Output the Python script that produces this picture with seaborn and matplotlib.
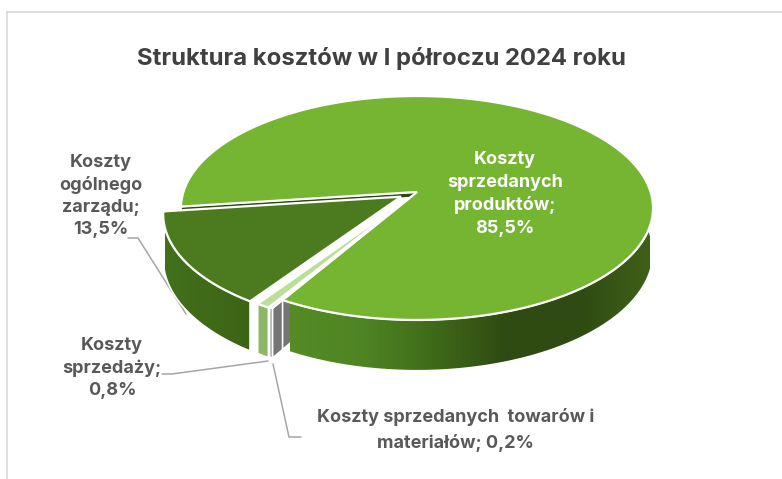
"""Struktura kosztow - exploded 3D pie drawn on a seaborn themed figure."""
import numpy as np
import matplotlib
matplotlib.use("Agg")
import matplotlib.pyplot as plt
from matplotlib.colors import to_rgb
from matplotlib.patches import Polygon
import seaborn as sns

categories = ["Koszty\nsprzedanych\nproduktów;\n85,5%",
              "Koszty sprzedanych  towarów i\nmateriałów; 0,2%",
              "Koszty\nsprzedaży;\n0,8%",
              "Koszty\nogólnego\nzarządu;\n13,5%"]
values = [85.5, 0.2, 0.8, 13.5]
explode = [0.0, 0.065, 0.07, 0.08]

title = "Struktura kosztów w I półroczu 2024 roku"
first_angle = 262.5

# projection of the pie disc, in pixels
CX, CY = 417, 192
A, B, D, K = 233.6, 109.7, 43.5, 1 / 7

sns.set_theme(style="white")
plt.rcParams["font.family"] = ["Inter", "DejaVu Sans"]

fig, ax = plt.subplots(figsize=(7.82, 4.79), dpi=100)
ax.set_position([0, 0, 1, 1])
ax.axis("off")


def project(angle, r, mid, e, z=0.0):
    u = r * np.sin(np.radians(angle)) + e * np.sin(np.radians(mid))
    v = -r * np.cos(np.radians(angle)) - e * np.cos(np.radians(mid))
    w = 1 - K * v
    return CX + A * u / w, CY + (B * v + D * z) / w


def top_face(start, stop, mid, e, color, zorder):
    angles = np.linspace(start, stop, 300)
    x, y = project(angles, 1.0, mid, e)
    ax0, ay0 = project(mid, 0.0, mid, e)
    pts = np.column_stack([np.r_[ax0, x], np.r_[ay0, y]])
    ax.add_patch(Polygon(pts, closed=True, fc=color, ec="white", lw=1.6,
                         joinstyle="miter", zorder=zorder))


def radial_wall(angle, mid, e, color, zorder, depth=1.0):
    x0, y0 = project(mid, 0.0, mid, e)
    x1, y1 = project(angle, 1.0, mid, e)
    x2, y2 = project(angle, 1.0, mid, e, depth)
    x3, y3 = project(mid, 0.0, mid, e, depth)
    ax.add_patch(Polygon([(x0, y0), (x1, y1), (x2, y2), (x3, y3)], closed=True,
                         fc=color, ec="white", lw=1.2, zorder=zorder))


def outer_wall(start, stop, mid, e, palette, x_from, x_to, zorder):
    # gradient image clipped to the curved side of the slice
    angles = np.linspace(start, stop, 361)
    x, y = project(angles, 1.0, mid, e)
    xb, yb = project(angles, 1.0, mid, e, 1.0)
    pts = np.column_stack([np.r_[x, xb[::-1]], np.r_[y, yb[::-1]]])
    edge = Polygon(pts, closed=True, fc="none", ec="white", lw=1.2, zorder=zorder + 0.1)
    ax.add_patch(edge)
    colors = np.array([to_rgb(c) for c in palette])[np.newaxis, :, :]
    im = ax.imshow(colors, extent=[x_from, x_to, 479, 0], aspect="auto",
                   interpolation="bilinear", zorder=zorder)
    im.set_clip_path(edge)


# slice angles, clockwise from 12 o'clock
shares = np.array(values) / sum(values) * 360
starts = first_angle + np.r_[0, np.cumsum(shares)[:-1]]
stops = starts + shares
mids = (starts + stops) / 2

main_wall = sns.blend_palette(["#558c25", "#4f8423", "#3f6a1a", "#2f4a12", "#2f4a12", "#3f6018"], 200)
admin_wall = sns.blend_palette(["#42701b", "#3f6a18", "#3b6315"], 60)
sales_wall = sns.blend_palette(["#8db765", "#8db765"], 4)
goods_wall = sns.blend_palette(["#8a8a8a", "#8a8a8a"], 4)

# leader lines stay behind the pie
line_c = "#a6a6a6"
ax.plot([128, 138, 186], [238, 238, 314], color=line_c, lw=1.1, zorder=1)
ax.plot([162, 172, 268], [374, 374, 361], color=line_c, lw=1.1, zorder=1)
ax.plot([273, 289, 301], [364, 437, 437], color=line_c, lw=1.1, zorder=1)

# goods slice: cut face is seen behind the main slice
radial_wall(starts[1], mids[1], explode[1], "#757575", 2)

# main slice, only a thin strip of its cut face shows next to the admin slice
outer_wall(starts[0], stops[0], mids[0], explode[0], main_wall, 290, 650, 3)
radial_wall(starts[0], mids[0], explode[0], "#2c4a10", 3.5, depth=0.12)
top_face(starts[0], stops[0], mids[0], explode[0], "#76b531", 4)

# small slices and the admin slice in front
outer_wall(starts[1], stops[1], mids[1], explode[1], goods_wall, 0, 782, 5)
top_face(starts[1], stops[1], mids[1], explode[1], "#7f7f7f", 6)
outer_wall(starts[3], stops[3], mids[3], explode[3], admin_wall, 165, 257, 7)
top_face(starts[3], stops[3], mids[3], explode[3], "#4c7a1f", 8)
outer_wall(starts[2], stops[2], mids[2], explode[2], sales_wall, 0, 782, 9)
top_face(starts[2], stops[2], mids[2], explode[2], "#bcdf98", 10)

# chart frame
ax.plot([7, 7], [479, 11.5], color="#d9d9d9", lw=1.2, zorder=0)
ax.plot([7, 782], [11.5, 11.5], color="#d9d9d9", lw=1.2, zorder=0)

ax.set_xlim(0, 782)
ax.set_ylim(479, 0)

ax.text(381, 58, title, ha="center", va="center", fontsize=17.2, fontweight="bold", color="#404040")

label_fs = 13
ax.text(505, 194, categories[0], ha="center", va="center", fontsize=label_fs, fontweight="bold",
        color="white", linespacing=1.42, zorder=20)
ax.text(455.5, 430, categories[1], ha="center", va="center", fontsize=label_fs, fontweight="bold",
        color="#595959", linespacing=1.55, zorder=20)
ax.text(112, 368, categories[2], ha="center", va="center", fontsize=label_fs, fontweight="bold",
        color="#595959", linespacing=1.4, zorder=20)
ax.text(101, 196, categories[3], ha="center", va="center", fontsize=label_fs, fontweight="bold",
        color="#595959", linespacing=1.38, zorder=20)

fig.savefig("out.png", dpi=100)
